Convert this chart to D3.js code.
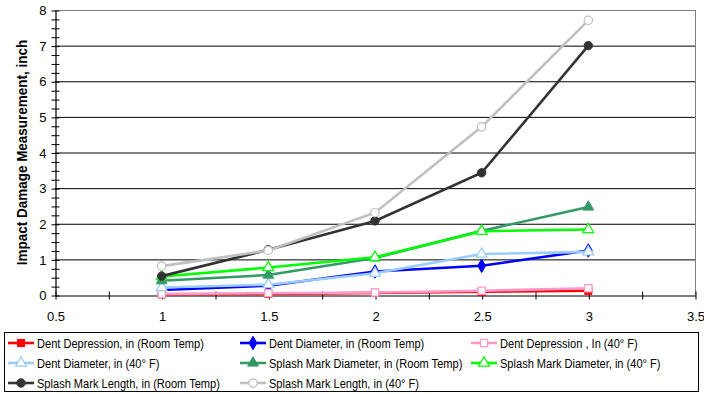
<!DOCTYPE html>
<html>
<head>
<meta charset="utf-8">
<script src="https://cdn.jsdelivr.net/npm/d3@7"></script>
<style>
  body { margin: 0; background: #fff; }
  svg text { font-family: "Liberation Sans Narrow", "Arial Narrow", "Liberation Sans", sans-serif; }
</style>
</head>
<body>
<div id="chart"></div>
<script>
const xValues = [1, 1.5, 2, 2.5, 3];

const dentDepthRoom = [0.02, 0.03, 0.06, 0.09, 0.12];
const dentDiamRoom = [0.14, 0.26, 0.66, 0.82, 1.25];
const dentDepth40 = [0.03, 0.05, 0.07, 0.12, 0.19];
const dentDiam40 = [0.21, 0.29, 0.61, 1.15, 1.21];
const splashDiamRoom = [0.4, 0.56, 1.04, 1.8, 2.47];
const splashDiam40 = [0.52, 0.77, 1.06, 1.79, 1.84];
const splashLenRoom = [0.53, 1.27, 2.08, 3.43, 7.0];
const splashLen40 = [0.81, 1.25, 2.31, 4.72, 7.71];

const seriesNames = [
  'Dent Depression, in (Room Temp)',
  'Dent Diameter, in (Room Temp)',
  'Dent Depression , In (40° F)',
  'Dent Diameter, in (40° F)',
  'Splash Mark Diameter, in (Room Temp)',
  'Splash Mark Diameter, in (40° F)',
  'Splash Mark Length, in (Room Temp)',
  'Splash Mark Length, in (40° F)'
];
const seriesValues = [dentDepthRoom, dentDiamRoom, dentDepth40, dentDiam40,
  splashDiamRoom, splashDiam40, splashLenRoom, splashLen40];

const xTicks = [0.5, 1, 1.5, 2, 2.5, 3, 3.5];
const yTicks = [0, 1, 2, 3, 4, 5, 6, 7, 8];

// look of each series: colour, marker, open or filled
const styles = [
  { color: '#ff0000', symbol: d3.symbolSquare, open: false },
  { color: '#0000ff', symbol: d3.symbolDiamond, open: false },
  { color: '#ff99cc', symbol: d3.symbolSquare, open: true },
  { color: '#99ccff', symbol: d3.symbolTriangle, open: true },
  { color: '#339966', symbol: d3.symbolTriangle, open: false },
  { color: '#00ff00', symbol: d3.symbolTriangle, open: true },
  { color: '#333333', symbol: d3.symbolCircle, open: false },
  { color: '#c0c0c0', symbol: d3.symbolCircle, open: true }
];

const width = 704;
const height = 394;
const plotLeft = 55, plotRight = 695, plotTop = 10, plotBottom = 295;
const narrow = 0.82; // no narrow font installed, squeeze the regular one

const svg = d3.select('#chart').append('svg')
  .attr('width', width)
  .attr('height', height);

const x = d3.scaleLinear().domain([0.5, 3.5]).range([plotLeft, plotRight]);
const y = d3.scaleLinear().domain([0, 8]).range([plotBottom, plotTop]);

// grid lines
svg.append('g')
  .selectAll('line')
  .data(yTicks.filter(d => d > 0))
  .join('line')
  .attr('x1', plotLeft).attr('x2', plotRight)
  .attr('y1', d => y(d) + 0.5).attr('y2', d => y(d) + 0.5)
  .attr('stroke', d => d === 8 ? '#808080' : '#000')
  .attr('stroke-width', 1);

// right border of plot area
svg.append('line')
  .attr('x1', plotRight + 0.5).attr('x2', plotRight + 0.5)
  .attr('y1', plotTop).attr('y2', plotBottom)
  .attr('stroke', '#808080');

// minor ticks
const yMinor = d3.axisLeft(y).tickValues(d3.range(0, 8.001, 0.25)).tickFormat('').tickSizeOuter(0);
const gyMinor = svg.append('g').attr('transform', `translate(${plotLeft + 0.5},0.5)`).call(yMinor);
gyMinor.selectAll('.tick line').attr('x1', -4).attr('x2', 4);
gyMinor.select('.domain').remove();

const xMinor = d3.axisBottom(x).tickValues(d3.range(0.5, 3.501, 0.25)).tickFormat('').tickSizeOuter(0);
const gxMinor = svg.append('g').attr('transform', `translate(0.5,${plotBottom + 0.5})`).call(xMinor);
gxMinor.selectAll('.tick line').attr('y1', -4).attr('y2', 4);
gxMinor.select('.domain').remove();

// axes with labels
const yAxis = d3.axisLeft(y).tickValues(yTicks).tickSize(0).tickPadding(9).tickFormat(d3.format('d'));
const gy = svg.append('g').attr('transform', `translate(${plotLeft + 0.5},0.5)`).call(yAxis);
gy.select('.domain').attr('stroke', '#000').attr('stroke-width', 1.2);
gy.selectAll('text').attr('font-size', 13).attr('fill', '#000');

const xAxis = d3.axisBottom(x).tickValues(xTicks).tickSize(0).tickPadding(16).tickFormat(d => String(d));
const gx = svg.append('g').attr('transform', `translate(0.5,${plotBottom + 0.5})`).call(xAxis);
gx.select('.domain').attr('stroke', '#000').attr('stroke-width', 1.2);
gx.selectAll('text').attr('font-size', 13).attr('fill', '#000');

// y title
svg.append('text')
  .attr('transform', `translate(27,${(plotTop + plotBottom) / 2}) rotate(-90) scale(0.9,1)`)
  .attr('text-anchor', 'middle')
  .attr('font-size', 15)
  .attr('font-weight', 'bold')
  .text('Impact Damage Measurement, inch');

// series
const line = d3.line().x((d, i) => x(xValues[i])).y(d => y(d));

function drawMarker(g, st, px, py) {
  const size = st.symbol === d3.symbolCircle ? 55 : (st.symbol === d3.symbolTriangle ? 50 : 52);
  g.append('path')
    .attr('d', d3.symbol().type(st.symbol).size(size)())
    .attr('transform', `translate(${px},${py})`)
    .attr('fill', st.open ? '#fff' : st.color)
    .attr('stroke', st.color)
    .attr('stroke-width', st.open ? 1.2 : 1);
}

seriesValues.forEach((vals, i) => {
  const st = styles[i];
  const g = svg.append('g');
  g.append('path')
    .attr('d', line(vals))
    .attr('fill', 'none')
    .attr('stroke', st.color)
    .attr('stroke-width', 2.6);
  vals.forEach((v, j) => drawMarker(g, st, x(xValues[j]), y(v)));
});

// legend
svg.append('rect')
  .attr('x', 4.5).attr('y', 332.5)
  .attr('width', 694).attr('height', 59)
  .attr('fill', '#fff')
  .attr('stroke', '#000');

const colX = [8, 240, 471];
const rowY = [343, 363, 383];

seriesNames.forEach((name, i) => {
  const st = styles[i];
  const cx = colX[i % 3];
  const cy = rowY[Math.floor(i / 3)];
  const g = svg.append('g');
  g.append('line')
    .attr('x1', cx).attr('x2', cx + 26)
    .attr('y1', cy).attr('y2', cy)
    .attr('stroke', st.color)
    .attr('stroke-width', 2.6);
  drawMarker(g, st, cx + 13, cy);
  g.append('text')
    .attr('transform', `translate(${cx + 29},${cy}) scale(${narrow},1)`)
    .attr('dy', '0.36em')
    .attr('font-size', 13.5)
    .text(name);
});
</script>
</body>
</html>
